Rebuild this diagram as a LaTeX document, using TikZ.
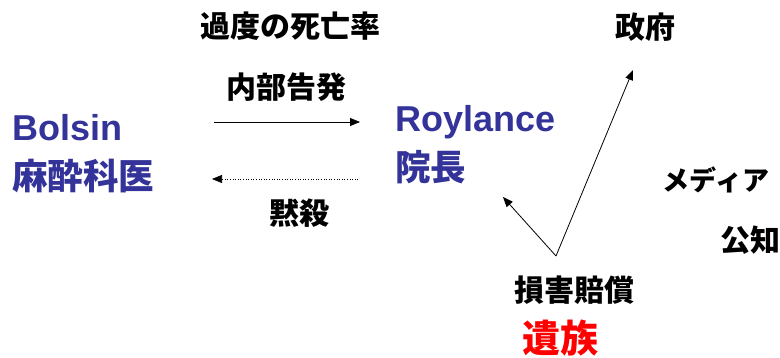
\documentclass[tikz,border=0pt]{standalone}
\usepackage{fontspec}
\setmainfont{Liberation Sans}
\newfontfamily\jp{Noto Sans CJK JP}
\usetikzlibrary{arrows.meta}
\definecolor{navy}{RGB}{51,51,153}
\begin{document}
\begin{tikzpicture}[x=1pt,y=-1pt,
  lbl/.style={font=\jp\bfseries\fontsize{30}{33}\selectfont, inner sep=0pt},
  who/.style={font=\bfseries\fontsize{36}{40}\selectfont, text=navy, inner sep=0pt, anchor=west},
  whojp/.style={font=\jp\bfseries\fontsize{35.5}{40}\selectfont, text=navy, inner sep=0pt, anchor=west},
  arr/.style={line width=0.8pt, -{Triangle[length=10pt,width=8pt]}}]
\useasboundingbox (0,0) rectangle (780,358);
\node[lbl] (kado) at (290,26) {過度の死亡率};
\node[lbl] (naibu) at (286,87) {内部告発};
\node[lbl] (mokusatsu) at (299,213) {黙殺};
\node[lbl] (seifu) at (645,27) {政府};
\node[lbl, font=\jp\bfseries\fontsize{27}{30}\selectfont] (media) at (716,180) {メディア};
\node[lbl] (kochi) at (750,240) {公知};
\node[lbl] (songai) at (574,290) {損害賠償};
\node[lbl, font=\jp\bfseries\fontsize{38}{40}\selectfont, text=red] (izoku) at (560,338) {遺族};
\node[who] (bolsin) at (12,128) {Bolsin};
\node[whojp] (masui) at (12,176) {麻酔科医};
\node[who] (roy) at (395,122) {Roylance};
\node[whojp] (incho) at (395,167) {院長};
\coordinate (a1s) at (214,122);
\coordinate (a1e) at (360,122);
\coordinate (a2s) at (358,179);
\coordinate (a2e) at (212,179);
\coordinate (v) at (556,256);
\coordinate (vg) at (633,70);
\coordinate (vh) at (503,197);
\draw[arr] (a1s) -- (a1e);
\draw[arr, line width=0.6pt, dotted] (a2s) -- (a2e);
\draw[arr] (v) -- (vg);
\draw[arr] (v) -- (vh);
\end{tikzpicture}
\end{document}
